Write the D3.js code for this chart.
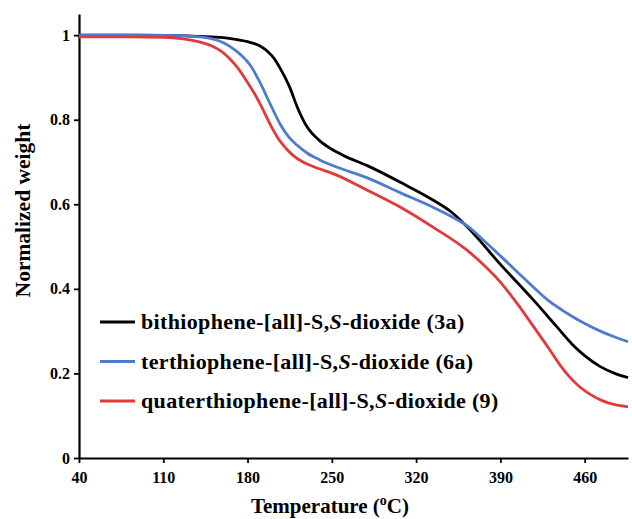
<!DOCTYPE html>
<html>
<head>
<meta charset="utf-8">
<script src="https://cdn.jsdelivr.net/npm/d3@7"></script>
<style>
  html, body { margin: 0; padding: 0; background: #fff; }
</style>
</head>
<body>
<div id="canvas"></div>
<script>
'use strict';

const FONT = '"Liberation Serif"';

// Temperature ticks (°C) and weight ticks.
const xTicks = [40, 110, 180, 250, 320, 390, 460];
const yTicks = [0, 0.2, 0.4, 0.6, 0.8, 1];

// bithiophene-[all]-S,S-dioxide (3a)
const biTemps = [40, 80, 120, 140, 160, 170, 182, 190, 196, 202, 207, 215,
  221, 229, 240, 250, 260, 279, 307, 334, 350, 362, 390, 417, 437, 450, 460,
  473, 485, 496];
const biWeights = [1.0, 1.0, 0.999, 0.997, 0.994, 0.99, 0.983, 0.975, 0.963,
  0.945, 0.922, 0.877, 0.832, 0.785, 0.75, 0.73, 0.715, 0.692, 0.652, 0.61,
  0.58, 0.548, 0.458, 0.375, 0.31, 0.268, 0.242, 0.216, 0.2, 0.19];

// terthiophene-[all]-S,S-dioxide (6a)
const terTemps = [40, 100, 125, 140, 150, 160, 168, 175, 182, 190, 199, 207,
  214, 221, 230, 240, 254, 279, 307, 334, 350, 362, 376, 390, 404, 417, 430,
  445, 460, 473, 485, 496];
const terWeights = [1.0, 1.0, 0.999, 0.996, 0.992, 0.982, 0.968, 0.952, 0.93,
  0.89, 0.836, 0.79, 0.76, 0.74, 0.72, 0.705, 0.688, 0.663, 0.627, 0.593, 0.57,
  0.55, 0.515, 0.478, 0.44, 0.405, 0.372, 0.343, 0.318, 0.3, 0.286, 0.275];

// quaterthiophene-[all]-S,S-dioxide (9)
const quaterTemps = [40, 80, 110, 125, 140, 150, 158, 165, 172, 178, 184, 190,
  196, 201, 206, 212, 218, 226, 234, 254, 279, 307, 334, 362, 376, 390, 404,
  417, 430, 440, 448, 456, 465, 475, 485, 496];
const quaterWeights = [0.996, 0.996, 0.995, 0.992, 0.984, 0.975, 0.962, 0.945,
  0.922, 0.897, 0.87, 0.84, 0.805, 0.777, 0.753, 0.732, 0.715, 0.7, 0.69,
  0.669, 0.634, 0.593, 0.546, 0.492, 0.457, 0.416, 0.365, 0.313, 0.26, 0.218,
  0.19, 0.168, 0.15, 0.135, 0.126, 0.121];

const seriesNames = [
  'bithiophene-[all]-S,S-dioxide (3a)',
  'terthiophene-[all]-S,S-dioxide (6a)',
  'quaterthiophene-[all]-S,S-dioxide (9)',
];
const seriesColors = ['#000000', '#4d7bcf', '#e13a3d'];

const series = [
  {temps: biTemps, weights: biWeights},
  {temps: terTemps, weights: terWeights},
  {temps: quaterTemps, weights: quaterWeights},
].map((s, i) => ({
  name: seriesNames[i],
  color: seriesColors[i],
  data: s.temps.map((t, j) => ({x: t, y: s.weights[j]})),
}));

const width = 632;
const height = 519;
const margin = {top: 14, right: 4, bottom: 61, left: 79};

const svg = d3.select('#canvas').append('svg')
    .attr('width', width)
    .attr('height', height);

const x = d3.scaleLinear()
    .domain([40, 496])
    .range([margin.left, width - margin.right]);
const y = d3.scaleLinear()
    .domain([0, 1.05])
    .range([height - margin.bottom, margin.top]);

// Axes
const xAxis = svg.append('g')
    .attr('transform', `translate(0, ${y(0)})`)
    .call(d3.axisBottom(x).tickValues(xTicks).tickSize(5).tickSizeOuter(0)
        .tickFormat(d3.format('d')));
const yAxis = svg.append('g')
    .attr('transform', `translate(${x(40)}, 0)`)
    .call(d3.axisLeft(y).tickValues(yTicks).tickSize(5).tickSizeOuter(0)
        .tickFormat(d => d === 0 || d === 1 ? String(d) : d3.format('.1f')(d)));

[xAxis, yAxis].forEach(ax => {
  ax.attr('font-family', null).attr('font-size', null);
  ax.select('.domain').attr('stroke', '#000').attr('stroke-width', 2.2);
  ax.selectAll('.tick line').attr('stroke', '#000').attr('stroke-width', 1.8);
  ax.selectAll('.tick text')
      .style('font-family', FONT)
      .style('font-weight', 'bold')
      .style('font-size', '16px')
      .attr('fill', '#000');
});
xAxis.selectAll('.tick text').attr('dy', '1.05em');
yAxis.selectAll('.tick text').attr('x', -9);

// Lines
const line = d3.line()
    .x(d => x(d.x))
    .y(d => y(d.y))
    .curve(d3.curveMonotoneX);

series.forEach(s => {
  svg.append('path')
      .datum(s.data)
      .attr('d', line)
      .attr('fill', 'none')
      .attr('stroke', s.color)
      .attr('stroke-width', 2.8)
      .attr('stroke-linejoin', 'round');
});

// Axis titles
svg.append('text')
    .attr('x', 330)
    .attr('y', 513)
    .attr('text-anchor', 'middle')
    .style('font-family', FONT)
    .style('font-weight', 'bold')
    .style('font-size', '21px')
    .call(t => {
      t.append('tspan').text('Temperature (');
      t.append('tspan').text('o').attr('dy', -8).style('font-size', '14px');
      t.append('tspan').text('C)').attr('dy', 8);
    });

svg.append('text')
    .attr('transform', `translate(30, 210.5) rotate(-90)`)
    .attr('text-anchor', 'middle')
    .style('font-family', FONT)
    .style('font-weight', 'bold')
    .style('font-size', '21.5px')
    .text('Normalized weight');

// Legend
const legend = svg.append('g')
    .attr('transform', 'translate(100, 322)');
series.forEach((s, i) => {
  const row = legend.append('g').attr('transform', `translate(0, ${i * 39.5})`);
  row.append('line')
      .attr('x1', 0).attr('x2', 35)
      .attr('stroke', s.color)
      .attr('stroke-width', 3.2);
  const parts = s.name.split('S,S');
  const label = row.append('text')
      .attr('x', 41)
      .attr('y', 7)
      .style('font-family', FONT)
      .style('font-weight', 'bold')
      .style('font-size', '22px')
      .style('letter-spacing', '0.35px');
  label.append('tspan').text(parts[0] + 'S,');
  label.append('tspan').text('S').style('font-style', 'italic');
  label.append('tspan').text(parts[1]);
});
</script>
</body>
</html>
